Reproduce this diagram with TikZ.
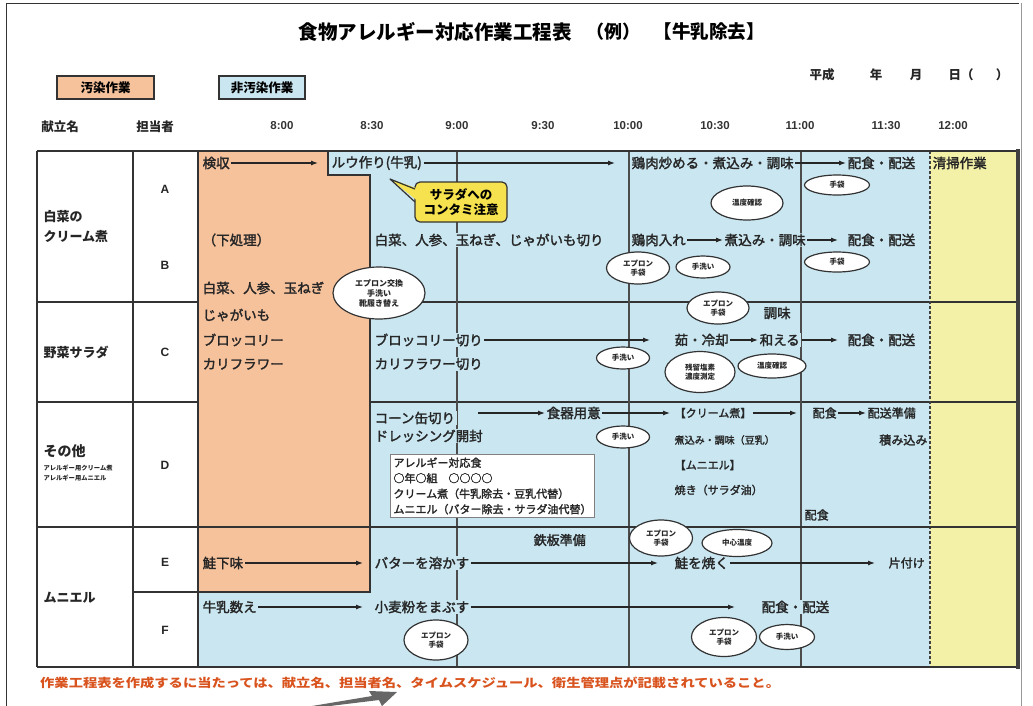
\documentclass[tikz,border=0pt]{standalone}
\usepackage{fontspec}
\setmainfont{Noto Sans CJK JP}
\newfontfamily\mdf[FakeBold=2]{Noto Sans CJK JP}
\newfontfamily\lat{Liberation Sans}
\usetikzlibrary{arrows.meta,shapes.geometric}
\definecolor{pinkbg}{HTML}{F6C29C}
\definecolor{bluebg}{HTML}{C9E6F1}
\definecolor{yellowbg}{HTML}{F3F0A8}
\definecolor{callY}{HTML}{F6E24E}
\definecolor{linec}{HTML}{333333}
\definecolor{footc}{HTML}{D9531E}
\newcommand\fz[2]{\fontsize{#1pt}{#2pt}\selectfont}
\tikzset{
  txt/.style={anchor=west, inner xsep=1.5pt, inner ysep=1pt, font=\mdf\fz{13.5}{16}, text=black!85},
  txtb/.style={txt, fill=bluebg},
  small/.style={font=\mdf\fz{11}{14}},
  hdr/.style={font=\fz{12.5}{15}\bfseries, text=black!85},
  tim/.style={font=\lat\bfseries\fz{11.5}{14}, text=black!80},
  lbl/.style={anchor=west, align=left, font=\fz{13}{20}\bfseries, text=black!85},
  let/.style={font=\lat\bfseries\fz{12}{14}, text=black!85},
  arr/.style={-{Latex[length=7pt,width=5pt]}, line width=1.1pt, draw=black!85},
  ell/.style={ellipse, draw=black!80, line width=1.2pt, fill=white, inner sep=0pt, align=center, font=\fz{7.5}{9}\bfseries, text=black!85},
  grid/.style={line width=1.6pt, draw=linec},
  tline/.style={line width=1.6pt, draw=black!70},
}
\begin{document}
\begin{tikzpicture}[x=1pt,y=-1pt]
\useasboundingbox (0,0) rectangle (1033,705);
% page frame
\draw[line width=1pt, black!80] (6,706) -- (6,3) -- (1019,3);
\draw[line width=1pt, black!40] (1021,3) -- (1021,706);
% title
\node[anchor=west, font=\fz{19.5}{22}\bfseries] (title) at (295,32) {食物アレルギー対応作業工程表};
\node[anchor=west, font=\fz{18}{22}\bfseries] (rei) at (583,32) {（例）};
\node[anchor=west, font=\fz{18.5}{22}\bfseries] (jokyo) at (650,32) {【牛乳除去】};
% legend
\node[draw=black!80, line width=1.2pt, fill=pinkbg, minimum width=97, minimum height=23, inner sep=0pt, font=\fz{12.5}{15}\bfseries] (leg1) at (105.5,87.5) {汚染作業};
\node[draw=black!80, line width=1.2pt, fill=bluebg, minimum width=86, minimum height=23, inner sep=0pt, font=\fz{12.5}{15}\bfseries] (leg2) at (262,87.5) {非汚染作業};
% date
\node[hdr] (heisei) at (822,75) {平成};
\node[hdr] (nen) at (876,75) {年};
\node[hdr] (tsuki) at (916,75) {月};
\node[hdr] (hi) at (961,75) {日（};
\node[hdr] (kakko) at (1002,75) {）};
% headers
\node[hdr] (h1) at (60,127) {献立名};
\node[hdr] (h2) at (155,127) {担当者};
\node[tim] (t800) at (282,126) {8:00};
\node[tim] (t830) at (372,126) {8:30};
\node[tim] (t900) at (457,126) {9:00};
\node[tim] (t930) at (543,126) {9:30};
\node[tim] (t1000) at (628,126) {10:00};
\node[tim] (t1030) at (715,126) {10:30};
\node[tim] (t1100) at (800,126) {11:00};
\node[tim] (t1130) at (886,126) {11:30};
\node[tim] (t1200) at (953,126) {12:00};
% backgrounds
\fill[bluebg] (198,151) rectangle (930,667);
\fill[yellowbg] (930,151) rectangle (1018,667);
% row lines under pink
\draw[grid] (37,302) -- (1018,302);
\draw[grid] (37,402) -- (1018,402);
% time lines
\draw[tline] (457,151) -- (457,667);
\draw[tline] (629,151) -- (629,667);
\draw[tline] (801,151) -- (801,667);
\draw[line width=2pt, draw=black!75, dash pattern=on 2.5pt off 2.5pt] (930,151) -- (930,667);
% contaminated area
\filldraw[fill=pinkbg, draw=linec, line width=1.6pt] (198,151) -- (328,151) -- (328,175) -- (370,175) -- (370,592) -- (198,592) -- cycle;
% table frame
\draw[grid] (37,151) -- (1018,151);
\draw[grid] (37,667) -- (1018,667);
\draw[grid] (37,151) -- (37,667);
\draw[grid] (133,151) -- (133,667);
\draw[grid] (198,151) -- (198,667);
\draw[grid] (37,527) -- (1018,527);
\draw[grid] (133,592) -- (198,592);
\draw[line width=3.5pt, draw=black!75] (1018,149) -- (1018,669);
% menu names
\node[lbl] (m1) at (40,227) {白菜の\\クリーム煮};
\node[lbl] (m2) at (40,352) {野菜サラダ};
\node[lbl, font=\fz{14}{20}\bfseries] (m3) at (40,451) {その他};
\node[anchor=west, align=left, font=\fz{6.3}{9.5}\bfseries, text=black!85] (m3a) at (40,473) {アレルギー用クリーム煮\\アレルギー用ムニエル};
\node[lbl] (m4) at (40,598) {ムニエル};
% persons
\node[let] (pA) at (165,189) {A};
\node[let] (pB) at (165,265) {B};
\node[let] (pC) at (165,352) {C};
\node[let] (pD) at (165,465) {D};
\node[let] (pE) at (165,562) {E};
\node[let] (pF) at (165,630) {F};
% row A
\node[txt] (a1) at (201,163) {検収};
\coordinate (a1e) at (318,163);
\draw[arr] (a1) -- (a1e);
\node[txtb] (a2) at (330,163) {ルウ作り(牛乳)};
\coordinate (a2e) at (615,163);
\draw[arr] (a2) -- (a2e);
\node[txtb] (a3) at (630,163) {鶏肉炒める・煮込み・調味};
\node[txtb] (a4) at (846,163) {配食・配送};
\draw[arr] (a3) -- (a4);
\node[txt] (a5) at (931,163) {清掃作業};
% callout
\node[draw=linec, line width=1.2pt, fill=callY, rounded corners=5pt, minimum width=92, minimum height=40, align=center, inner sep=1pt, font=\fz{12.5}{15.5}\bfseries] (call) at (461,202) {サラダへの\\コンタミ注意};
\coordinate (ctip) at (390,179);
\fill[callY] (ctip) -- (419,189) -- (419,202) -- cycle;
\draw[linec, line width=1.2pt, line join=round] (415,189) -- (ctip) -- (415,202);
% row B
\node[txt] (b1) at (201,240) {（下処理）};
\node[txtb] (b2) at (373,240) {白菜、人参、玉ねぎ、じゃがいも切り};
\node[txtb] (b3) at (630,240) {鶏肉入れ};
\node[txtb] (b4) at (723,240) {煮込み・調味};
\node[txtb] (b5) at (846,240) {配食・配送};
\draw[arr] (b3) -- (b4);
\draw[arr, shorten >=8pt] (b4) -- (b5);
\node[txt] (b6) at (201,288) {白菜、人参、玉ねぎ};
% ellipses row A/B
\node[ell, minimum width=65, minimum height=20] (e1) at (837,185) {手袋};
\node[ell, minimum width=72, minimum height=34] (e2) at (747,203) {温度確認};
\node[ell, minimum width=63, minimum height=32] (e3) at (638,268) {エプロン\\手袋};
\node[ell, minimum width=54, minimum height=22] (e4) at (703,267) {手洗い};
\node[ell, minimum width=65, minimum height=20] (e5) at (837,262) {手袋};
\node[ell, minimum width=92, minimum height=52, font=\fz{8}{10}\bfseries] (e6) at (379,293) {エプロン交換\\手洗い\\靴履き替え};
\node[ell, minimum width=62, minimum height=32] (e7) at (718,308) {エプロン\\手袋};
% row C
\node[txt] (c01) at (201,315) {じゃがいも};
\node[txt] (c02) at (201,340) {ブロッコリー};
\node[txt] (c03) at (201,364) {カリフラワー};
\node[txtb] (c1) at (373,340) {ブロッコリー切り};
\coordinate (c1e) at (650,340);
\draw[arr] (c1) -- (c1e);
\node[txtb] (c2) at (373,364) {カリフラワー切り};
\node[txtb] (c3) at (673,340) {茹・冷却};
\node[txtb] (c4) at (758,340) {和える};
\node[txtb] (c5) at (846,340) {配食・配送};
\draw[arr] (c3) -- (c4);
\draw[arr, shorten >=8pt] (c4) -- (c5);
\node[txtb] (c6) at (762,313) {調味};
\node[ell, minimum width=53, minimum height=22] (e8) at (623,358) {手洗い};
\node[ell, minimum width=70, minimum height=41] (e9) at (700,372) {残留塩素\\濃度測定};
\node[ell, minimum width=68, minimum height=24] (e10) at (772,366) {温度確認};
% row D
\node[txtb] (d1) at (373,418) {コーン缶切り};
\node[txtb] (d7) at (373,436) {ドレッシング開封};
\coordinate (d1s) at (478,413);
\node[txtb] (d2) at (545,413) {食器用意};
\draw[arr] (d1s) -- (d2);
\node[txtb, small] (d3) at (673,413) {【クリーム煮】};
\draw[arr, shorten >=3pt] (d2) -- (d3);
\coordinate (d3e) at (797,413);
\draw[arr] (d3) -- (d3e);
\node[txtb, font=\mdf\fz{12}{14}] (d4) at (811,413) {配食};
\node[txtb, font=\mdf\fz{12}{14}] (d5) at (866,413) {配送準備};
\draw[arr] (d4) -- (d5);
\node[txtb, font=\mdf\fz{12}{14}, anchor=east] (d6) at (929,440) {積み込み};
\node[txtb, font=\mdf\fz{10}{12}] (d8) at (673,440) {煮込み・調味（豆乳）};
\node[txtb, small] (d9) at (673,465) {【ムニエル】};
\node[txtb, small] (d10) at (673,490) {焼き（サラダ油）};
\node[txtb, font=\mdf\fz{12}{14}] (d11) at (803,515) {配食};
\node[ell, minimum width=53, minimum height=22] (e11) at (623,437) {手洗い};
\node[draw=black!50, line width=1pt, fill=white, anchor=north west, align=left, inner sep=3pt, font=\mdf\fz{11}{15.5}, text=black!85] (abox) at (390,454) {アレルギー対応食\\○年○組　○○○○\\クリーム煮（牛乳除去・豆乳代替）\\ムニエル（バター除去・サラダ油代替）};
% row E/F
\node[txtb, font=\mdf\fz{13}{15}] (f0) at (532,540) {鉄板準備};
\node[txt] (f1) at (201,563) {鮭下味};
\coordinate (f1e) at (363,563);
\draw[arr] (f1) -- (f1e);
\node[txtb] (f2) at (373,563) {バターを溶かす};
\coordinate (f2e) at (658,563);
\draw[arr] (f2) -- (f2e);
\node[txtb] (f3) at (673,563) {鮭を焼く};
\coordinate (f3e) at (875,563);
\draw[arr] (f3) -- (f3e);
\node[txtb, font=\mdf\fz{12}{14}] (f4) at (887,563) {片付け};
\node[txtb] (f5) at (201,607) {牛乳数え};
\coordinate (f5e) at (363,607);
\draw[arr] (f5) -- (f5e);
\node[txtb] (f6) at (373,607) {小麦粉をまぶす};
\coordinate (f6e) at (735,607);
\draw[arr] (f6) -- (f6e);
\node[txtb] (f7) at (760,607) {配食・配送};
\node[ell, minimum width=63, minimum height=36] (e12) at (661,538) {エプロン\\手袋};
\node[ell, minimum width=70, minimum height=27] (e13) at (737,543) {中心温度};
\node[ell, minimum width=64, minimum height=40] (e14) at (436,640) {エプロン\\手袋};
\node[ell, minimum width=65, minimum height=39] (e15) at (724,637) {エプロン\\手袋};
\node[ell, minimum width=55, minimum height=25] (e16) at (787,637) {手洗い};
% footer
\node[anchor=west, text=footc, font=\fz{12}{14}\bfseries, inner sep=0pt] (foot) at (40,683) {\scalebox{1.19}[1]{作業工程表を作成するに当たっては、献立名、担当者名、タイムスケジュール、衛生管理点が記載されていること。}};
% partial arrow at bottom edge
\fill[black!60] (312,706) -- (372,696) -- (369,691) -- (397,692) -- (382,706) -- (379,700) -- (330,706) -- cycle;
\end{tikzpicture}
\end{document}
